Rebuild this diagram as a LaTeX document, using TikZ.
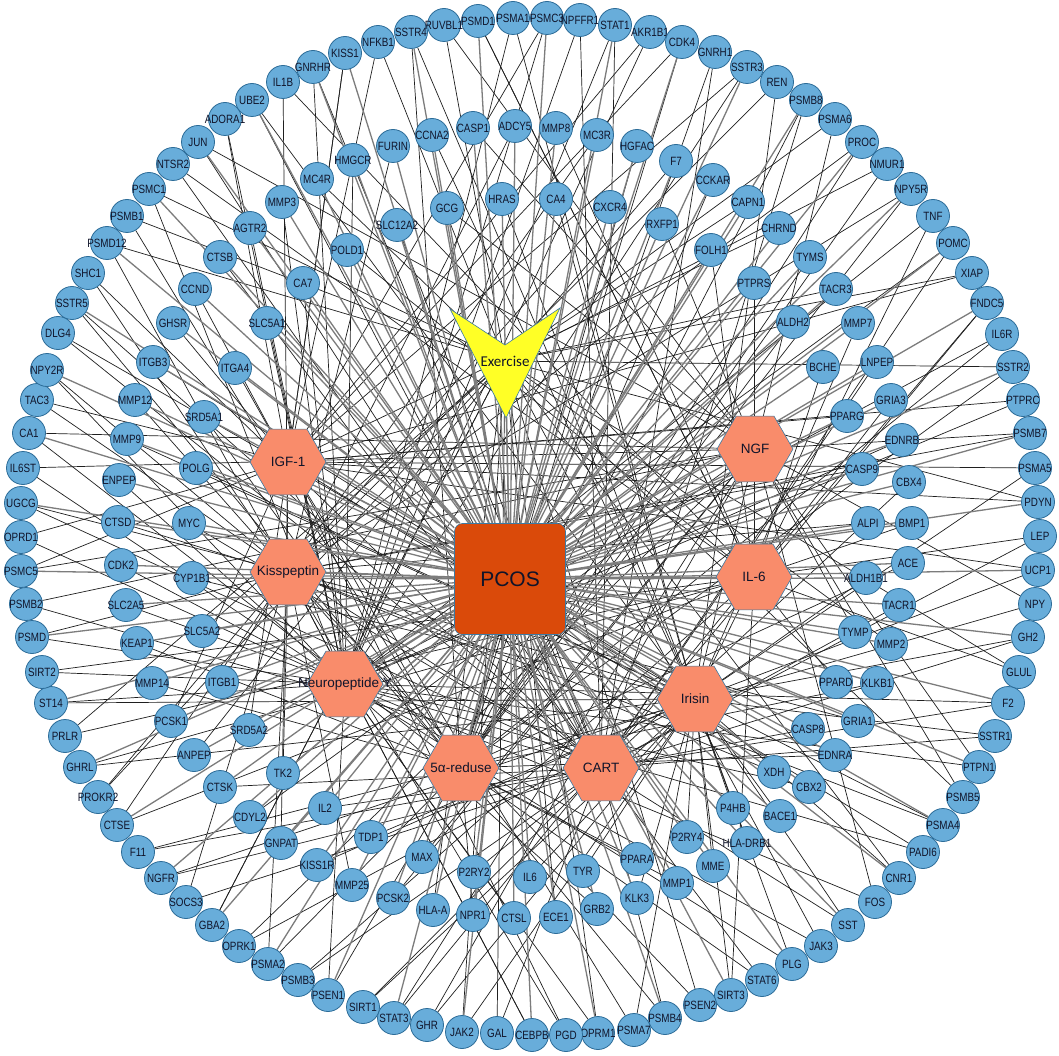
\documentclass[tikz,border=0pt]{standalone}
\usepackage{fontspec}
\setmainfont{Liberation Sans}
\newfontfamily\labfont[FakeStretch=0.82]{Liberation Sans}
\newfontfamily\exfont{Carlito}
\usetikzlibrary{shapes.geometric,backgrounds}
\definecolor{nodeblue}{HTML}{68ADDA}
\definecolor{nodeedge}{HTML}{2C6C98}
\definecolor{hubfill}{HTML}{F98C6B}
\definecolor{hubedge}{HTML}{3C7AA3}
\definecolor{pcosfill}{HTML}{DA4A0A}
\definecolor{exfill}{HTML}{FFFF26}
\definecolor{txt}{HTML}{10142A}
\definecolor{edgegray}{HTML}{7C7C7C}
\begin{document}
\begin{tikzpicture}[x=1pt,y=-1pt,
  gene/.style={circle,fill=nodeblue,draw=nodeedge,line width=0.8pt,minimum size=33pt,inner sep=0pt},
  genelab/.style={font=\labfont\fontsize{12}{13}\selectfont,text=txt,inner sep=0pt},
  hub/.style={regular polygon,regular polygon sides=6,minimum size=76pt,fill=hubfill,draw=hubedge,line width=0.6pt,inner sep=0pt},
  hublab/.style={font=\fontsize{13.5}{14}\selectfont,text=txt,inner sep=0pt},
  pcosbox/.style={rectangle,rounded corners=8pt,minimum size=111pt,fill=pcosfill,draw=hubedge,line width=0.6pt,font=\fontsize{21}{22}\selectfont,text=txt},
  bedge/.style={draw=black!88,line width=0.7pt},
  gedge/.style={draw=edgegray,line width=1.3pt}]
\useasboundingbox (0,0) rectangle (1059,1056);

% outer ring
\foreach \x/\y/\t [count=\k] in {345/53/KISS1,378/42/NFKB1,411/32/SSTR4,444/25/RUVBL1,478/21/PSMD1,513/18/PSMA1,547/18/PSMC3,580/20/NPFFR1,615/25/STAT1,650/32/AKR1B1,682/42/CDK4,715/52/GNRH1,747/67/SSTR3,777/82/REN,806/100/PSMB8,835/119/PSMA6,862/142/PROC,887/164/NMUR1,911/189/NPY5R,933/216/TNF,953/243/POMC,972/273/XIAP,987/303/FNDC5,1002/334/IL6R,1013/367/SSTR2,1023/400/PTPRC,1030/433/PSMB7,1035/468/PSMA5,1038/502/PDYN,1040/536/LEP,1038/570/UCP1,1035/604/NPY,1028/637/GH2,1019/672/GLUL,1008/703/F2,995/736/SSTR1,979/767/PTPN1,963/797/PSMB5,943/825/PSMA4,923/852/PADI6,899/878/CNR1,875/902/FOS,848/925/SST,821/946/JAK3,792/964/PLG,762/980/STAT6,731/995/SIRT3,700/1005/PSEN2,665/1018/PSMB4,634/1030/PSMA7,598/1033/OPRM1,566/1035/PGD,532/1035/CEBPB,497/1033/GAL,462/1032/JAK2,427/1025/GHR,394/1018/STAT3,363/1007/SIRT1,328/995/PSEN1,298/980/PSMB3,268/964/PSMA2,239/946/OPRK1,212/925/GBA2,186/902/SOCS3,161/878/NGFR,138/852/F11,117/825/CTSE,98/797/PROKR2,80/767/GHRL,65/736/PRLR,51/703/ST14,42/672/SIRT2,32/637/PSMD,26/604/PSMB2,21/571/PSMC5,21/537/OPRD1,21/503/UGCG,23/468/IL6ST,29/433/CA1,37/400/TAC3,47/370/NPY2R,58/333/DLG4,72/303/SSTR5,88/273/SHC1,107/243/PSMD12,127/216/PSMB1,149/189/PSMC1,173/164/NTSR2,198/142/JUN,225/119/ADORA1,252/100/UBE2,283/82/IL1B,313/67/GNRHR}
  {\node[gene,label={[genelab]center:\t}] (o\k) at (\x,\y) {};}

% inner ring
\foreach \x/\y/\t [count=\k] in {353/160/HMGCR,317/179/MC4R,282/202/MMP3,250/228/AGTR2,220/257/CTSB,195/289/CCND,173/323/GHSR,347/250/POLD1,303/283/CA7,267/323/SLC5A1,153/362/ITGB3,235/368/ITGA4,135/400/MMP12,204/417/SRD5A1,127/439/MMP9,196/468/POLG,119/480/ENPEP,118/522/CTSD,189/523/MYC,121/565/CDK2,192/578/CYP1B1,126/605/SLC2A5,202/631/SLC5A2,137/643/KEAP1,152/683/MMP14,222/682/ITGB1,393/146/FURIN,432/135/CCNA2,473/128/CASP1,515/126/ADCY5,556/128/MMP8,597/135/MC3R,637/146/HGFAC,676/161/F7,397/225/SLC12A2,447/208/GCG,502/199/HRAS,556/199/CA4,610/207/CXCR4,662/224/RXFP1,713/180/CCKAR,748/202/CAPN1,779/228/CHRND,711/250/FOLH1,810/257/TYMS,754/283/PTPRS,836/289/TACR3,793/322/ALDH2,858/323/MMP7,877/362/LNPEP,823/367/BCHE,891/400/GRIA3,847/416/PPARG,902/440/EDNRB,862/469/CASP9,909/482/CBX4,868/523/ALPI,912/523/BMP1,908/563/ACE,866/578/ALDH1B1,899/605/TACR1,855/632/TYMP,891/644/MMP2,836/682/PPARD,877/683/KLKB1,858/721/GRIA1,808/729/CASP8,835/755/EDNRA,774/772/XDH,809/787/CBX2,733/808/P4HB,780/816/BACE1,747/843/HLA-DRB1,713/866/MME,687/837/P2RY4,677/883/MMP1,637/859/PPARA,637/898/KLK3,583/871/TYR,597/909/GRB2,530/877/IL6,556/917/ECE1,514/918/CTSL,474/872/P2RY2,473/915/NPR1,422/857/MAX,433/910/HLA-A,371/837/TDP1,393/898/PCSK2,352/885/MMP25,317/865/KISS1R,325/808/IL2,281/843/GNPAT,250/817/CDYL2,283/773/TK2,220/787/CTSK,249/730/SRD5A2,194/755/ANPEP,171/721/PCSK1}
  {\node[gene,label={[genelab]center:\t}] (i\k) at (\x,\y) {};}

% hubs
\node[hub,label={[hublab]center:IGF-1}] (h1) at (288,462) {};
\node[hub,label={[hublab]center:Kisspeptin}] (h2) at (288,572) {};
\node[hub,label={[hublab]center:Neuropeptide Y}] (h3) at (345,684) {};
\node[hub,label={[hublab]center:5α-reduse}] (h4) at (461,768) {};
\node[hub,label={[hublab]center:CART}] (h5) at (601,768) {};
\node[hub,label={[hublab]center:Irisin}] (h6) at (695,699) {};
\node[hub,label={[hublab]center:IL-6}] (h7) at (754,577) {};
\node[hub,label={[hublab]center:NGF}] (h8) at (755,449) {};
\node[pcosbox] (pcos) at (510,579) {PCOS};
\filldraw[fill=exfill,draw=hubedge,line width=0.6pt] (450,309) -- (505,345) -- (560,308) -- (506,418) -- cycle;
\node[font=\exfont\fontsize{15}{16}\selectfont,text=txt,inner sep=1pt] (h9) at (505,361) {Exercise};

% connectors
\begin{pgfonlayer}{background}
\fill[white] (0,0) rectangle (1059,1056);
\pgfmathsetseed{12}
\foreach \k in {1,...,93}{
  \pgfmathrandominteger{\a}{1}{9}
  \pgfmathrandominteger{\b}{1}{9}
  \draw[bedge] (o\k) -- (h\a);
  \draw[bedge] (o\k) -- (h\b);
}
\foreach \k in {1,...,99}{
  \pgfmathrandominteger{\a}{1}{9}
  \draw[bedge] (i\k) -- (h\a);
}
\foreach \k in {1,...,99}{
  \draw[gedge] (pcos) -- (i\k);
}
\foreach \k in {1,3,...,93}{
  \draw[gedge] (pcos) -- (o\k);
}
\foreach \j in {1,...,9}{
  \draw[gedge] (pcos) -- (h\j);
}
\end{pgfonlayer}
\end{tikzpicture}
\end{document}
